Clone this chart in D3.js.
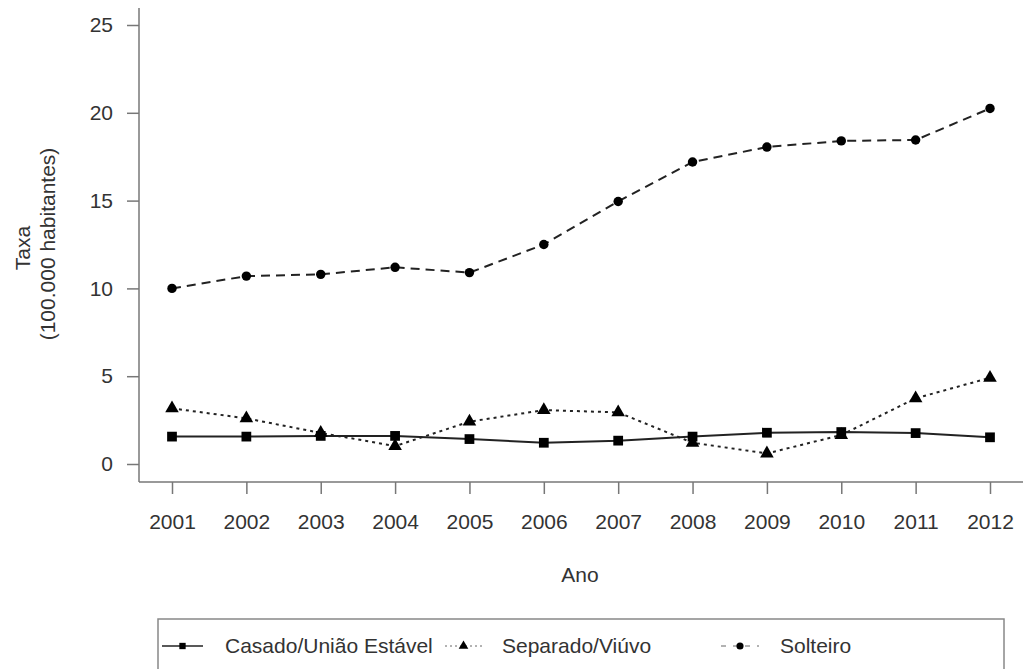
<html>

<head>
    <script src="https://d3js.org/d3.v7.min.js"></script>
    <style>
        body {
            margin: 0;
            background: white;
        }

        text {
            font-family: "Liberation Sans", Arial, sans-serif;
            fill: #333;
        }
    </style>
</head>

<body>
    <svg id="chart" width="1023" height="669"></svg>
    <script>
        const years = [2001, 2002, 2003, 2004, 2005, 2006, 2007, 2008, 2009, 2010, 2011, 2012];
        const casado = [1.56, 1.56, 1.6, 1.6, 1.42, 1.21, 1.33, 1.56, 1.78, 1.82, 1.76, 1.52];
        const separado = [3.17, 2.6, 1.77, 1.02, 2.41, 3.07, 2.94, 1.21, 0.6, 1.65, 3.74, 4.91];
        const solteiro = [10.0, 10.7, 10.8, 11.2, 10.9, 12.5, 14.95, 17.2, 18.05, 18.4, 18.45, 20.25];
        const seriesNames = ["Casado/União Estável", "Separado/Viúvo", "Solteiro"];
        const yTicks = [0, 5, 10, 15, 20, 25];

        const svg = d3.select("#chart");
        const axisColor = "#777";
        const lineColor = "#222";

        const xScale = d3.scaleLinear().domain([2001, 2012]).range([172, 990]);
        const yScale = d3.scaleLinear().domain([0, 25]).range([464, 25]);

        // L-shaped box
        svg.append("line")
            .attr("x1", 139).attr("x2", 139)
            .attr("y1", 8).attr("y2", 482)
            .attr("stroke", axisColor).attr("stroke-width", 1.5);
        svg.append("line")
            .attr("x1", 139).attr("x2", 1023)
            .attr("y1", 482).attr("y2", 482)
            .attr("stroke", axisColor).attr("stroke-width", 1.5);

        let leftAxis = d3.axisLeft(yScale).tickValues(yTicks).tickSize(12).tickPadding(14);
        let gy = svg.append("g")
            .attr("transform", "translate(139,0)")
            .call(leftAxis);
        gy.select(".domain").remove();
        gy.selectAll("line").attr("stroke", axisColor).attr("stroke-width", 1.5);
        gy.selectAll("text").attr("font-size", 21).attr("fill", "#333");

        let bottomAxis = d3.axisBottom(xScale).tickValues(years).tickFormat(d3.format("d")).tickSize(12).tickPadding(20);
        let gx = svg.append("g")
            .attr("transform", "translate(0,482)")
            .call(bottomAxis);
        gx.select(".domain").remove();
        gx.selectAll("line").attr("stroke", axisColor).attr("stroke-width", 1.5);
        gx.selectAll("text").attr("font-size", 21).attr("fill", "#333");

        // axis titles
        svg.append("text")
            .attr("x", 580).attr("y", 575).attr("dy", "0.35em")
            .attr("text-anchor", "middle").attr("font-size", 21)
            .text("Ano");
        svg.append("text")
            .attr("transform", "translate(23,248) rotate(-90)")
            .attr("dy", "0.35em").attr("text-anchor", "middle").attr("font-size", 21)
            .text("Taxa");
        svg.append("text")
            .attr("transform", "translate(48,244) rotate(-90)")
            .attr("dy", "0.35em").attr("text-anchor", "middle").attr("font-size", 21)
            .text("(100.000 habitantes)");

        const line = d3.line().x((d, i) => xScale(years[i])).y(d => yScale(d));

        const series = [
            { name: seriesNames[0], values: casado, dash: null, shape: d3.symbolSquare, size: 95 },
            { name: seriesNames[1], values: separado, dash: "3,4", shape: d3.symbolTriangle, size: 80 },
            { name: seriesNames[2], values: solteiro, dash: "9,6", shape: d3.symbolCircle, size: 70 }
        ];

        series.forEach(s => {
            svg.append("path")
                .datum(s.values)
                .attr("d", line)
                .attr("fill", "none")
                .attr("stroke", lineColor)
                .attr("stroke-width", 2)
                .attr("stroke-dasharray", s.dash);

            svg.selectAll(null)
                .data(s.values)
                .enter()
                .append("path")
                .attr("d", d3.symbol().type(s.shape).size(s.size))
                .attr("transform", (d, i) => "translate(" + xScale(years[i]) + "," + yScale(d) + ")")
                .attr("fill", "black");
        })

        // legend
        svg.append("rect")
            .attr("x", 158).attr("y", 619)
            .attr("width", 846).attr("height", 80)
            .attr("fill", "none")
            .attr("stroke", "#888").attr("stroke-width", 1.5);

        const legendItems = [
            { x1: 162, x2: 203, text: 225 },
            { x1: 445, x2: 482, text: 502 },
            { x1: 721, x2: 759, text: 780 }
        ];
        const legendY = 646;

        legendItems.forEach((item, i) => {
            let s = series[i];
            svg.append("line")
                .attr("x1", item.x1).attr("x2", item.x2)
                .attr("y1", legendY).attr("y2", legendY)
                .attr("stroke", i == 0 ? lineColor : "#666")
                .attr("stroke-width", i == 0 ? 1.5 : 1)
                .attr("stroke-dasharray", i == 1 ? "2,3" : (i == 2 ? "5,7" : null));
            svg.append("path")
                .attr("d", d3.symbol().type(s.shape).size(40))
                .attr("transform", "translate(" + (item.x1 + item.x2) / 2 + "," + legendY + ")")
                .attr("fill", "black");
            svg.append("text")
                .attr("x", item.text).attr("y", legendY).attr("dy", "0.35em")
                .attr("font-size", 21)
                .text(s.name);
        })
    </script>
</body>

</html>
